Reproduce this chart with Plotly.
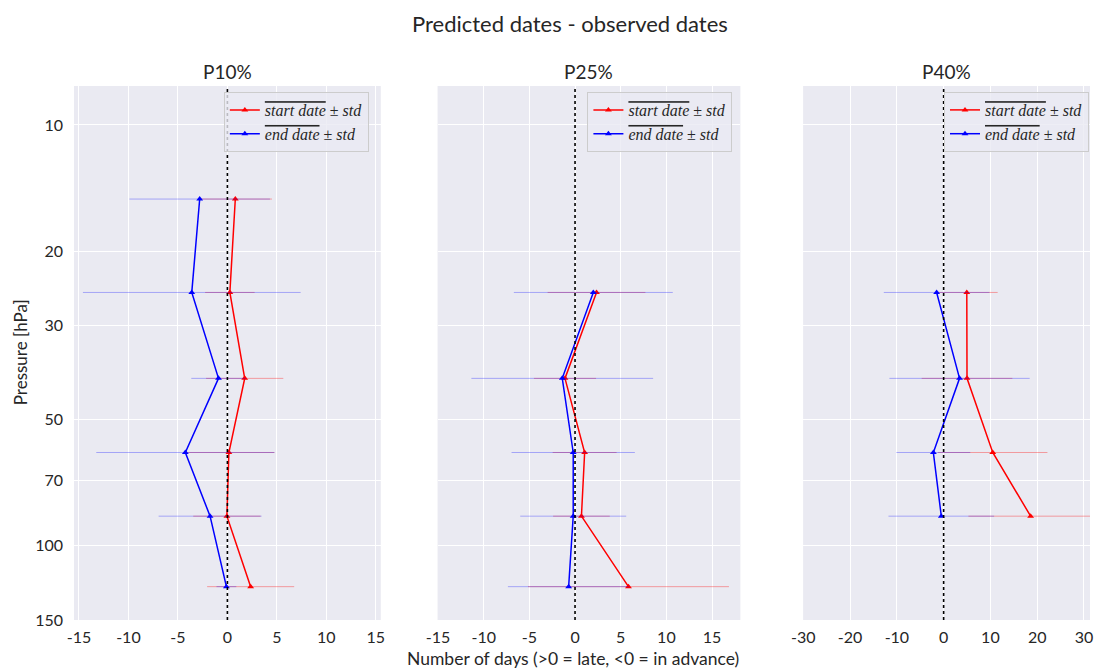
import plotly.graph_objects as go

# ---------------- data ----------------
panel_titles = ["P10%", "P25%", "P40%"]

p10_levels = [15, 25, 40, 60, 85, 125]
p10_start_mean = [0.8, 0.25, 1.75, 0.15, -0.05, 2.35]
p10_start_std = [3.7, 2.5, 3.9, 4.6, 3.4, 4.4]
p10_end_mean = [-2.8, -3.6, -0.9, -4.25, -1.75, -0.1]
p10_end_std = [7.1, 11.0, 2.75, 9.0, 5.2, 1.0]

p25_levels = [25, 40, 60, 85, 125]
p25_start_mean = [2.35, -1.1, 1.05, 0.7, 5.85]
p25_start_std = [5.35, 3.4, 3.5, 3.1, 11.0]
p25_end_mean = [2.0, -1.4, -0.2, -0.2, -0.7]
p25_end_std = [8.7, 9.95, 6.75, 5.8, 6.65]

p40_levels = [25, 40, 60, 85]
p40_start_mean = [4.95, 5.0, 10.5, 18.6]
p40_start_std = [6.6, 9.7, 11.7, 13.3]
p40_end_mean = [-1.5, 3.4, -2.2, -0.5]
p40_end_std = [11.3, 15.0, 7.9, 11.3]

y_ticks = [10, 20, 30, 50, 70, 100, 150]
x_ticks_p10 = [-15, -10, -5, 0, 5, 10, 15]
x_ticks_p25 = [-15, -10, -5, 0, 5, 10, 15]
x_ticks_p40 = [-30, -20, -10, 0, 10, 20, 30]

start_label = '<span style="text-decoration:overline"><i>start date</i></span> ± <i>std</i>'
end_label = '<span style="text-decoration:overline"><i>end date</i></span> ± <i>std</i>'

panels = [
    (p10_levels, p10_start_mean, p10_start_std, p10_end_mean, p10_end_std, x_ticks_p10, [-15.5, 15.5]),
    (p25_levels, p25_start_mean, p25_start_std, p25_end_mean, p25_end_std, x_ticks_p25, [-15.05, 18.1]),
    (p40_levels, p40_start_mean, p40_start_std, p40_end_mean, p40_end_std, x_ticks_p40, [-30.05, 31.3]),
]

# ---------------- layout geometry ----------------
# page body has an 8px margin, so the figure is laid out in screen coords minus 8
OFF = 8
W, H = 1102 - 2 * OFF, 669 - OFF
ML, MR, MT = 74 - OFF, 0, 86 - OFF
MB = H - (620 - OFF)
PW = W - ML - MR
PH = H - MT - MB

def px(x):
    return (x - OFF - ML) / PW

def py(y):
    return (H - MB - (y - OFF)) / PH

domains = [(px(74), px(382)), (px(439), px(743)), (px(806), 1.0)]

fig = go.Figure()
BG = "#EAEAF2"
TXT = "#262626"
SANS = "Lato, DejaVu Sans, sans-serif"
tick_font = dict(family=SANS, size=16, color=TXT)

for i, (lev, sm, ss, em, es, xt, xr) in enumerate(panels):
    n = "" if i == 0 else str(i + 1)
    xa, ya = "x" + n, "y" + n
    leg = "legend" + n
    fig.add_trace(go.Scatter(
        x=sm, y=lev, xaxis=xa, yaxis=ya, mode="lines+markers",
        line=dict(color="#FF0000", width=1.5),
        marker=dict(symbol="triangle-up", size=6, color="#FF0000"),
        error_x=dict(type="data", array=ss, visible=True, color="rgba(255,0,0,0.35)", thickness=1, width=0),
        name=start_label, legend=leg,
    ))
    fig.add_trace(go.Scatter(
        x=em, y=lev, xaxis=xa, yaxis=ya, mode="lines+markers",
        line=dict(color="#0000FF", width=1.5),
        marker=dict(symbol="triangle-up", size=6, color="#0000FF"),
        error_x=dict(type="data", array=es, visible=True, color="rgba(0,0,255,0.3)", thickness=1, width=0),
        name=end_label, legend=leg,
    ))
    fig.update_layout(**{
        "xaxis" + n: dict(
            domain=list(domains[i]), range=xr, tickvals=xt, ticktext=[str(t) for t in xt],
            showgrid=True, gridcolor="white", gridwidth=1.3, zeroline=False,
            showline=False, ticks="", tickfont=tick_font, anchor=ya,
            ticklabelstandoff=6,
        ),
        "yaxis" + n: dict(
            type="log", range=[2.1761, 0.9075], tickvals=y_ticks,
            ticktext=[str(t) for t in y_ticks], showticklabels=(i == 0),
            showgrid=True, gridcolor="white", gridwidth=1.3, zeroline=False,
            showline=False, ticks="", tickfont=tick_font, anchor=xa,
            ticklabelstandoff=10,
        ),
    })
    fig.add_shape(type="line", xref=xa, yref=ya + " domain", x0=0, x1=0, y0=0, y1=1,
                  line=dict(color="black", width=1.6, dash="dot"), layer="above")
    cx = (domains[i][0] + domains[i][1]) / 2
    fig.add_annotation(text=panel_titles[i], x=cx, y=py(72), xref="paper", yref="paper",
                       showarrow=False, font=dict(family=SANS, size=19, color=TXT),
                       xanchor="center", yanchor="middle")

legend_style = dict(
    bgcolor="rgba(234,234,242,0.8)", bordercolor="#CCCCCC", borderwidth=1,
    font=dict(family="Liberation Serif, DejaVu Serif, serif", size=16, color=TXT),
    yanchor="top", tracegroupgap=0, itemwidth=30,
)
fig.update_layout(
    legend=dict(x=px(370), xanchor="right", y=py(92), **legend_style),
    legend2=dict(x=px(735), xanchor="right", y=py(92), **legend_style),
    legend3=dict(x=px(1093), xanchor="right", y=py(92), **legend_style),
)

fig.add_annotation(text="Predicted dates - observed dates", x=px(572), y=py(23), xref="paper", yref="paper",
                   xanchor="center", yanchor="middle",
                   showarrow=False, font=dict(family=SANS, size=22, color=TXT))
fig.add_annotation(text="Number of days (>0 = late, <0 = in advance)", x=px(575), y=py(658), xref="paper", yref="paper",
                   xanchor="center", yanchor="middle",
                   showarrow=False, font=dict(family=SANS, size=17.5, color=TXT))
fig.add_annotation(text="Pressure [hPa]", x=px(20), y=py(352), xref="paper", yref="paper", textangle=-90,
                   xanchor="center", yanchor="middle",
                   showarrow=False, font=dict(family=SANS, size=17, color=TXT))

fig.update_layout(
    width=W, height=H, margin=dict(l=ML, r=MR, t=MT, b=MB),
    paper_bgcolor="white", plot_bgcolor=BG, showlegend=True,
)

fig.write_html("out.html")
